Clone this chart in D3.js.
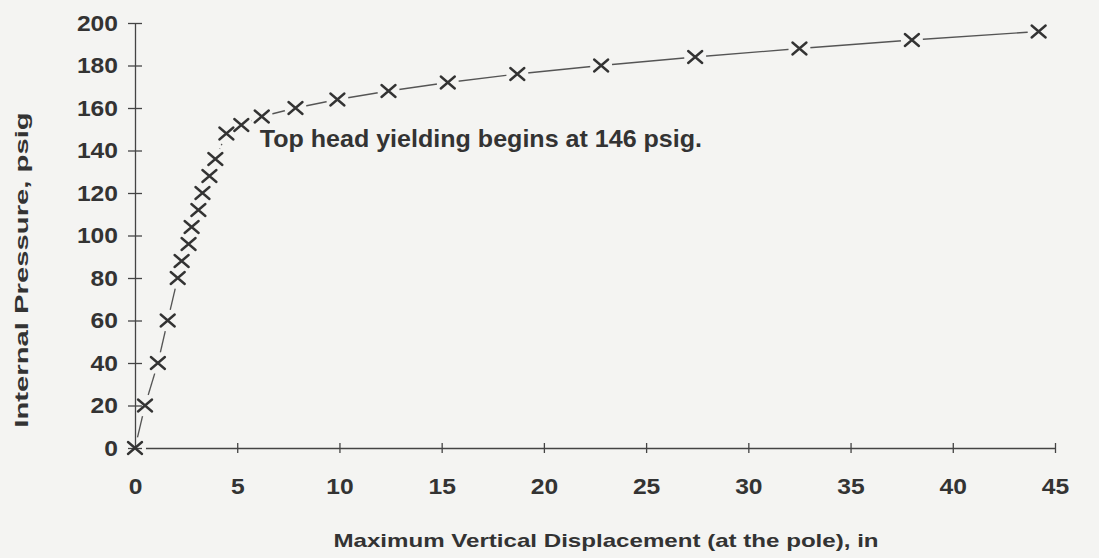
<!DOCTYPE html>
<html>
<head>
<meta charset="utf-8">
<script src="https://cdn.jsdelivr.net/npm/d3@7"></script>
<style>
  body { margin: 0; background: #f4f4f2; }
  svg { display: block; }
  text { font-family: "Liberation Sans", Arial, sans-serif; font-weight: bold; fill: #333; }
</style>
</head>
<body>
<svg id="svgHolder"></svg>
<script>
// values
let displacement = [0, 0.49, 1.12, 1.6, 2.09, 2.28, 2.62, 2.77, 3.1, 3.3, 3.64, 3.93, 4.47,
                    5.2, 6.2, 7.85, 9.9, 12.4, 15.3, 18.7, 22.8, 27.4, 32.5, 38.0, 44.2];
let pressure = [0, 20, 40, 60, 80, 88, 96, 104, 112, 120, 128, 136, 148,
                152, 156, 160, 164, 168, 172, 176, 180, 184, 188, 192, 196];
let dottedSegments = [11];   // segment 136 -> 148 psig is dotted
let xTicks = [0, 5, 10, 15, 20, 25, 30, 35, 40, 45];
let yTicks = [0, 20, 40, 60, 80, 100, 120, 140, 160, 180, 200];
let xTitle = 'Maximum Vertical Displacement (at the pole), in';
let yTitle = 'Internal Pressure, psig';
let note = 'Top head yielding begins at 146 psig.';
let noteAt = [6.1, 141.5];

let width = 1099;
let height = 558;
let bg = '#f4f4f2';
let ink = '#333';

let xScale;
let yScale;
let svg = d3.select('#svgHolder');

function drawSvgHolder() {
    svg.attr('width', width).attr('height', height);
    svg.append('rect')
        .attr('width', width)
        .attr('height', height)
        .attr('fill', bg);
}

function generateScales() {
    xScale = d3.scaleLinear().domain([0, 45]).range([135, 1055]);
    yScale = d3.scaleLinear().domain([0, 200]).range([448, 23]);
}

function drawXAxis() {
    let xAxis = d3.axisBottom(xScale)
        .tickValues(xTicks)
        .tickSize(5)
        .tickSizeOuter(0)
        .tickPadding(25);

    let gx = svg.append('g')
        .attr('id', 'x-axis')
        .attr('transform', 'translate(0,' + yScale(0) + ')')
        .call(xAxis);
    gx.selectAll('.tick line').attr('y1', -5).attr('y2', 5);
    gx.selectAll('.domain, .tick line')
        .attr('stroke', '#444')
        .attr('stroke-width', 1.3);
    gx.selectAll('.tick text')
        .attr('font-size', 22)
        .attr('font-family', null)
        .attr('fill', ink)
        .attr('transform', 'scale(1.12,1)');

    svg.append('text')
        .attr('transform', 'translate(606,547) scale(1.34,1)')
        .attr('text-anchor', 'middle')
        .attr('font-size', 18)
        .text(xTitle);
}

function drawYAxis() {
    let yAxis = d3.axisLeft(yScale)
        .tickValues(yTicks)
        .tickSizeOuter(0);

    let gy = svg.append('g')
        .attr('id', 'y-axis')
        .attr('transform', 'translate(' + xScale(0) + ',0)')
        .call(yAxis);
    gy.selectAll('.tick line').attr('x1', -7).attr('x2', 7);
    gy.selectAll('.domain, .tick line')
        .attr('stroke', '#444')
        .attr('stroke-width', 1.3);
    gy.selectAll('.tick text')
        .attr('font-size', 22)
        .attr('font-family', null)
        .attr('fill', ink)
        .attr('x', -17 / 1.12)
        .attr('transform', 'scale(1.12,1)');

    svg.append('text')
        .attr('transform', 'translate(28,270) rotate(-90) scale(1.54,1)')
        .attr('text-anchor', 'middle')
        .attr('font-size', 19)
        .text(yTitle);
}

function drawLine(pts) {
    let line = d3.line();

    svg.append('g')
        .selectAll('path')
        .data(d3.range(pts.length - 1))
        .enter()
        .append('path')
        .attr('d', (i) => line([pts[i], pts[i + 1]]))
        .attr('fill', 'none')
        .attr('stroke', '#555')
        .attr('stroke-width', 1.3)
        .attr('stroke-dasharray', (i) => dottedSegments.includes(i) ? '1.5,3.5' : null);

    // gap between line and marker, like the original
    svg.append('g')
        .selectAll('circle')
        .data(pts)
        .enter()
        .append('circle')
        .attr('cx', (p) => p[0])
        .attr('cy', (p) => p[1])
        .attr('r', 11)
        .attr('fill', bg);
}

function drawMarkers(pts) {
    svg.append('g')
        .selectAll('path')
        .data(pts)
        .enter()
        .append('path')
        .attr('transform', (p) => 'translate(' + p[0] + ',' + p[1] + ')')
        .attr('d', 'M-7,-6L7,6M-7,6L7,-6')
        .attr('stroke', ink)
        .attr('stroke-width', 2.4)
        .attr('stroke-linecap', 'round');

    svg.append('text')
        .attr('transform', 'translate(' + xScale(noteAt[0]) + ',' + yScale(noteAt[1]) + ') scale(1.09,1)')
        .attr('font-size', 23)
        .text(note);
}

drawSvgHolder();
generateScales();
let points = displacement.map((d, i) => [xScale(d), yScale(pressure[i])]);
drawXAxis();
drawLine(points);
drawYAxis();
drawMarkers(points);
</script>
</body>
</html>
